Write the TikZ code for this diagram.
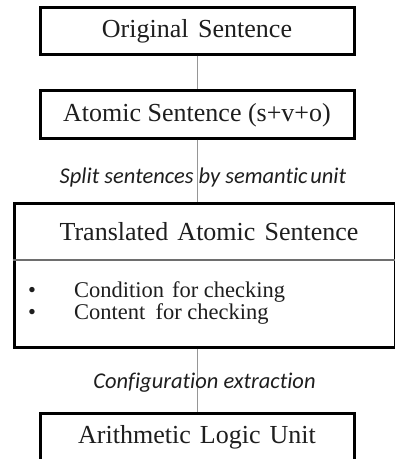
\documentclass[tikz,border=0pt]{standalone}
\usepackage{fontspec}
\setmainfont{Liberation Serif}
\newfontfamily\labelfont[Ligatures=NoCommon]{Carlito}
\definecolor{ink}{RGB}{30,30,30}
\definecolor{wire}{RGB}{150,150,150}
\definecolor{rule}{RGB}{110,110,110}
\begin{document}
\begin{tikzpicture}[x=1pt,y=-1pt,
  stagebox/.style={draw=black,line width=3pt,fill=white,inner sep=0pt},
  boxtext/.style={text=ink,font=\fontsize{26}{30}\selectfont,inner sep=0pt},
  itemtext/.style={text=ink,font=\fontsize{22.5}{26}\selectfont,inner sep=0pt,anchor=base west},
  steplabel/.style={text=ink,font=\labelfont\itshape\fontsize{22.5}{26}\selectfont,inner sep=0pt},
  link/.style={draw=wire,line width=1pt}]
  \useasboundingbox (0,0) rectangle (395,459);
  \clip (0,0) rectangle (395,459);

  % stage boxes
  \node[stagebox,minimum width=314pt,minimum height=47pt] (orig) at (197,30.5) {};
  \node[stagebox,minimum width=314pt,minimum height=48pt] (atomic) at (197,114) {};
  \node[stagebox,minimum width=381pt,minimum height=144pt] (trans) at (204.5,275) {};
  \node[stagebox,minimum width=314pt,minimum height=57pt] (alu) at (197,441.5) {};

  % connectors
  \draw[link] (orig.south) -- (atomic.north);
  \draw[link] (atomic.south) -- (atomic.south |- trans.north);
  \draw[link] (atomic.south |- trans.south) -- (atomic.south |- alu.north);

  % box texts
  \node[boxtext] (origtxt) at (197,31) {Original\hspace{0.12em} Sentence};
  \node[boxtext] (atomictxt) at (197,115) {Atomic Sentence (s+v+o)};
  \node[boxtext] (transtxt) at (209,232) {Translated\hspace{0.1em} Atomic\hspace{0.1em} Sentence};
  \node[boxtext] (alutxt) at (197,437) {Arithmetic\hspace{0.1em} Logic\hspace{0.1em} Unit};

  % divider inside the translated sentence box
  \draw[draw=rule,line width=2pt] (trans.west |- 0,260) -- (trans.east |- 0,260);

  % bullet list
  \node[itemtext] (b1) at (28,297) {•};
  \node[itemtext] (i1) at (74,297) {Condition\hspace{0.1em} for checking};
  \node[itemtext] (b2) at (28,319) {•};
  \node[itemtext] (i2) at (74,319) {Content\hspace{0.2em} for checking};

  % step labels
  \node[steplabel] (split) at (203,177) {Split sentences by semantic\hspace{-0.1em} unit};
  \node[steplabel] (config) at (204.5,383) {Configuration extraction};
\end{tikzpicture}
\end{document}
